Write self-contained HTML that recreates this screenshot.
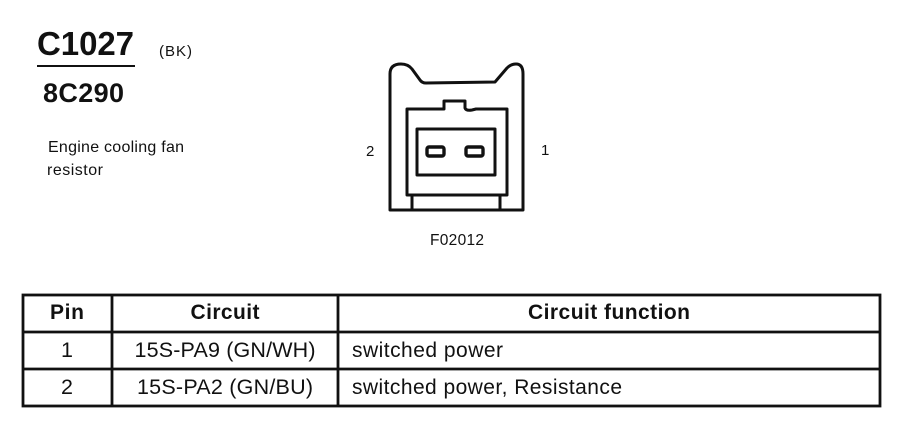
<!DOCTYPE html>
<html><head><meta charset="utf-8"><style>
html,body{margin:0;padding:0;background:#fff}
svg{display:block}
text{font-family:"Liberation Sans",sans-serif;fill:#111}
</style></head><body>
<svg width="900" height="448" viewBox="0 0 900 448" xmlns="http://www.w3.org/2000/svg">
<text x="37" y="55" font-size="33" font-weight="bold" textLength="97">C1027</text>
<text x="159" y="56" font-size="15" textLength="33">(BK)</text>
<rect x="37" y="65" width="98" height="2" fill="#111"/>
<text x="43" y="102" font-size="27" font-weight="bold" textLength="81">8C290</text>
<text x="48" y="152" font-size="16" textLength="136">Engine cooling fan</text>
<text x="47" y="175" font-size="16" textLength="56">resistor</text>

<g fill="none" stroke="#111" stroke-width="3" stroke-linejoin="round">
<path d="M390 210 V74 Q390 64 401 64 Q408 64 412 69 L420 80 Q422 83 426 83 L495 82 L507 68 Q511 64 516 64 Q523 64 523 74 V210 Z"/>
<path d="M407 195 V109 H444 V101 H465 V108 Q466 111 472 110 L476 109 H507 V195 Z"/>
<rect x="417" y="129" width="78" height="46"/>
<rect x="427" y="147" width="17" height="9" rx="2" stroke-width="3.4"/>
<rect x="466" y="147" width="17" height="9" rx="2" stroke-width="3.4"/>
<path d="M412 195 V210 M500 195 V210"/>
</g>
<text x="366" y="156" font-size="15">2</text>
<text x="541" y="155" font-size="15">1</text>
<text x="430" y="245" font-size="15.5" textLength="54">F02012</text>

<g fill="none" stroke="#111" stroke-width="2.8">
<rect x="23" y="295" width="857" height="111"/>
<path d="M23 332 H880 M23 369 H880 M112 295 V406 M338 295 V406"/>
</g>
<g font-size="21.5" text-anchor="middle">
<text x="67" y="319" font-weight="bold" font-size="21" textLength="34">Pin</text>
<text x="225" y="319" font-weight="bold" font-size="21" textLength="69">Circuit</text>
<text x="609" y="319" font-weight="bold" font-size="21" textLength="162">Circuit function</text>
<text x="67" y="357">1</text>
<text x="225" y="357" textLength="181">15S-PA9 (GN/WH)</text>
<text x="67" y="394">2</text>
<text x="225" y="394" textLength="176">15S-PA2 (GN/BU)</text>
</g>
<g font-size="21">
<text x="352" y="357" textLength="151">switched power</text>
<text x="352" y="394" textLength="270">switched power, Resistance</text>
</g>
</svg>
</body></html>
